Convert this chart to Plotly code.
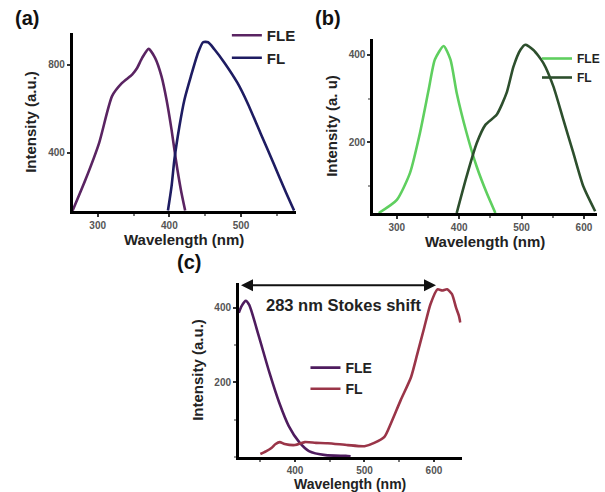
import plotly.graph_objects as go

# ---------------- data ----------------
A_FLE_WL = [265, 283, 302, 320, 334, 348, 355, 362, 371, 380, 389, 396, 403, 409, 416, 422]
A_FLE_I = [138, 279, 446, 658, 718, 756, 786, 832, 873, 832, 748, 642, 506, 370, 233, 138]
A_FL_WL = [398, 403, 407, 414, 421, 430, 440, 447, 454, 463, 477, 495, 509, 527, 545, 563, 574]
A_FL_I = [138, 248, 370, 521, 642, 748, 855, 903, 903, 870, 809, 718, 627, 491, 355, 218, 138]

B_FLE_WL = [271, 300, 321, 337, 351, 361, 375, 386, 396, 412, 428, 444, 458]
B_FLE_I = [39, 69, 130, 221, 320, 389, 420, 389, 313, 221, 145, 85, 39]
B_FL_WL = [396, 412, 428, 442, 460, 476, 487, 498, 506, 519, 535, 551, 567, 583, 599, 618]
B_FL_I = [39, 123, 198, 240, 263, 313, 373, 411, 423, 411, 381, 328, 252, 176, 100, 43]

C_FLE_WL = [319, 323, 329, 334, 348, 363, 377, 391, 406, 420, 444, 473, 480]
C_FLE_I = [387, 405, 419, 408, 323, 227, 147, 83, 40, 16, 5, 3, 2]
C_FL_WL = [350, 358, 366, 372, 378, 385, 400, 414, 430, 447, 476, 500, 514, 529, 538, 552,
           567, 576, 586, 595, 605, 612, 619, 626, 632, 636, 638]
C_FL_I = [8, 15, 24, 35, 40, 35, 32, 40, 38, 37, 32, 29, 38, 55, 90, 152,
          214, 276, 347, 410, 450, 447, 450, 437, 400, 379, 361]

STOKES_FROM = 320
STOKES_TO = 603
STOKES_Y = 461
STOKES_LABEL = "283 nm Stokes shift"
X_TITLE = "Wavelength (nm)"

A_X_TICKS = [300, 400, 500]
A_Y_TICKS = [400, 800]
B_X_TICKS = [300, 400, 500, 600]
B_Y_TICKS = [200, 400]
C_X_TICKS = [400, 500, 600]
C_Y_TICKS = [200, 400]

FONT = "Arial, Liberation Sans, sans-serif"
W, H = 605, 492

fig = go.Figure()

def add(x, y, name, color, xa, ya, legend):
    fig.add_trace(go.Scatter(x=x, y=y, name=name, mode="lines",
                             line=dict(color=color, width=2.6, shape="spline", smoothing=0.6),
                             xaxis=xa, yaxis=ya, legend=legend))

add(A_FLE_WL, A_FLE_I, "FLE", "#5a2462", "x", "y", "legend")
add(A_FL_WL, A_FL_I, "FL", "#1e1c62", "x", "y", "legend")
add(B_FLE_WL, B_FLE_I, "FLE", "#5fcf5f", "x2", "y2", "legend2")
add(B_FL_WL, B_FL_I, "FL", "#2d4f2d", "x2", "y2", "legend2")
add(C_FLE_WL, C_FLE_I, "FLE", "#4e1c5e", "x3", "y3", "legend3")
add(C_FL_WL, C_FL_I, "FL", "#9a3548", "x3", "y3", "legend3")

TITLE_FONT = dict(family=FONT, size=15, color="#222", weight="bold")

def xaxis(dom, rng, ticks, anchor, title=X_TITLE, ticklen=3):
    return dict(domain=dom, range=rng, tickvals=ticks, anchor=anchor, automargin=False,
                showline=True, linecolor="black", linewidth=2.5, mirror=False,
                ticks="outside", ticklen=ticklen, tickwidth=1.5, tickcolor="#333",
                showgrid=False, zeroline=False,
                minor=dict(dtick=50, ticks="outside", ticklen=2, tickcolor="#777"),
                tickfont=dict(family=FONT, size=10, color="#555", weight="bold"),
                title=dict(text=title, standoff=4, font=TITLE_FONT))

def yaxis(dom, rng, ticks, anchor, title):
    return dict(domain=dom, range=rng, tickvals=ticks, anchor=anchor, automargin=False,
                showline=True, linecolor="black", linewidth=2.5, mirror=False,
                ticks="outside", ticklen=3, tickwidth=1.5, tickcolor="#333",
                showgrid=False, zeroline=False,
                minor=dict(dtick=100, ticks="outside", ticklen=2, tickcolor="#999"),
                tickfont=dict(family=FONT, size=10, color="#555", weight="bold"),
                title=dict(text=title, standoff=8, font=TITLE_FONT))

ya = yaxis([1 - 211 / H, 1 - 33 / H], [136, 945], A_Y_TICKS, "x", "Intensity (a.u.)")
ya["minor"] = dict(showgrid=False)
C_DOM_X = [240 / W, 464 / W]
fig.update_layout(
    width=W, height=H,
    margin=dict(l=0, r=0, t=0, b=0),
    paper_bgcolor="white", plot_bgcolor="white",
    font=dict(family=FONT),
    xaxis=xaxis([73 / W, 297 / W], [265, 576], A_X_TICKS, "y"),
    yaxis=ya,
    xaxis2=xaxis([375 / W, 600 / W], [262, 621], B_X_TICKS, "y2"),
    yaxis2=yaxis([1 - 213 / H, 1 - 39 / H], [39, 436], B_Y_TICKS, "x2", "Intensity (a. u)"),
    xaxis3=xaxis(C_DOM_X, [319, 640], C_X_TICKS, "y3", title="", ticklen=2),
    yaxis3=yaxis([1 - 457 / H, 1 - 283 / H], [0, 467], C_Y_TICKS, "x3", "Intensity (a.u.)"),
    showlegend=True,
)

# x title of panel (c): sits at the very bottom edge, as in the reference
fig.add_annotation(text=X_TITLE, x=(C_DOM_X[0] + C_DOM_X[1]) / 2, y=0, xref="paper", yref="paper",
                   xanchor="center", yanchor="bottom", yshift=-1, showarrow=False,
                   borderpad=0, font=dict(family=FONT, size=14, color="#222", weight="bold"))

def legfont(size):
    return dict(family=FONT, size=size, color="#222", weight="bold")

fig.update_layout(
    legend=dict(x=228 / W, y=1 - 19 / H, xanchor="left", yanchor="top",
                bgcolor="rgba(0,0,0,0)", font=legfont(15), itemwidth=30, tracegroupgap=0),
    legend2=dict(x=540 / W, y=1 - 44 / H, xanchor="left", yanchor="top",
                 bgcolor="rgba(0,0,0,0)", font=legfont(12), itemwidth=30, tracegroupgap=0),
    legend3=dict(x=307 / W, y=1 - 352 / H, xanchor="left", yanchor="top",
                 bgcolor="rgba(0,0,0,0)", font=legfont(14), itemwidth=30, tracegroupgap=0),
)

# panel labels
for lab, x, y in [("(a)", 27, 18), ("(b)", 330, 18), ("(c)", 190, 262)]:
    fig.add_annotation(text=lab, x=x / W, y=1 - y / H, xref="paper", yref="paper",
                       showarrow=False, xanchor="center", yanchor="middle",
                       font=dict(family=FONT, size=20, color="#111", weight="bold"))

# Stokes shift double arrow
fig.add_annotation(x=STOKES_TO, y=STOKES_Y, ax=STOKES_FROM, ay=STOKES_Y,
                   xref="x3", yref="y3", axref="x3", ayref="y3", text="",
                   showarrow=True, arrowhead=2, arrowside="end+start",
                   arrowsize=1.2, arrowwidth=2, arrowcolor="#111")
fig.add_annotation(x=(STOKES_FROM + STOKES_TO) / 2 + 8, y=STOKES_Y - 52, xref="x3", yref="y3",
                   text=STOKES_LABEL, showarrow=False,
                   font=dict(family=FONT, size=16.5, color="#222", weight="bold"))

fig.write_html("out.html")
